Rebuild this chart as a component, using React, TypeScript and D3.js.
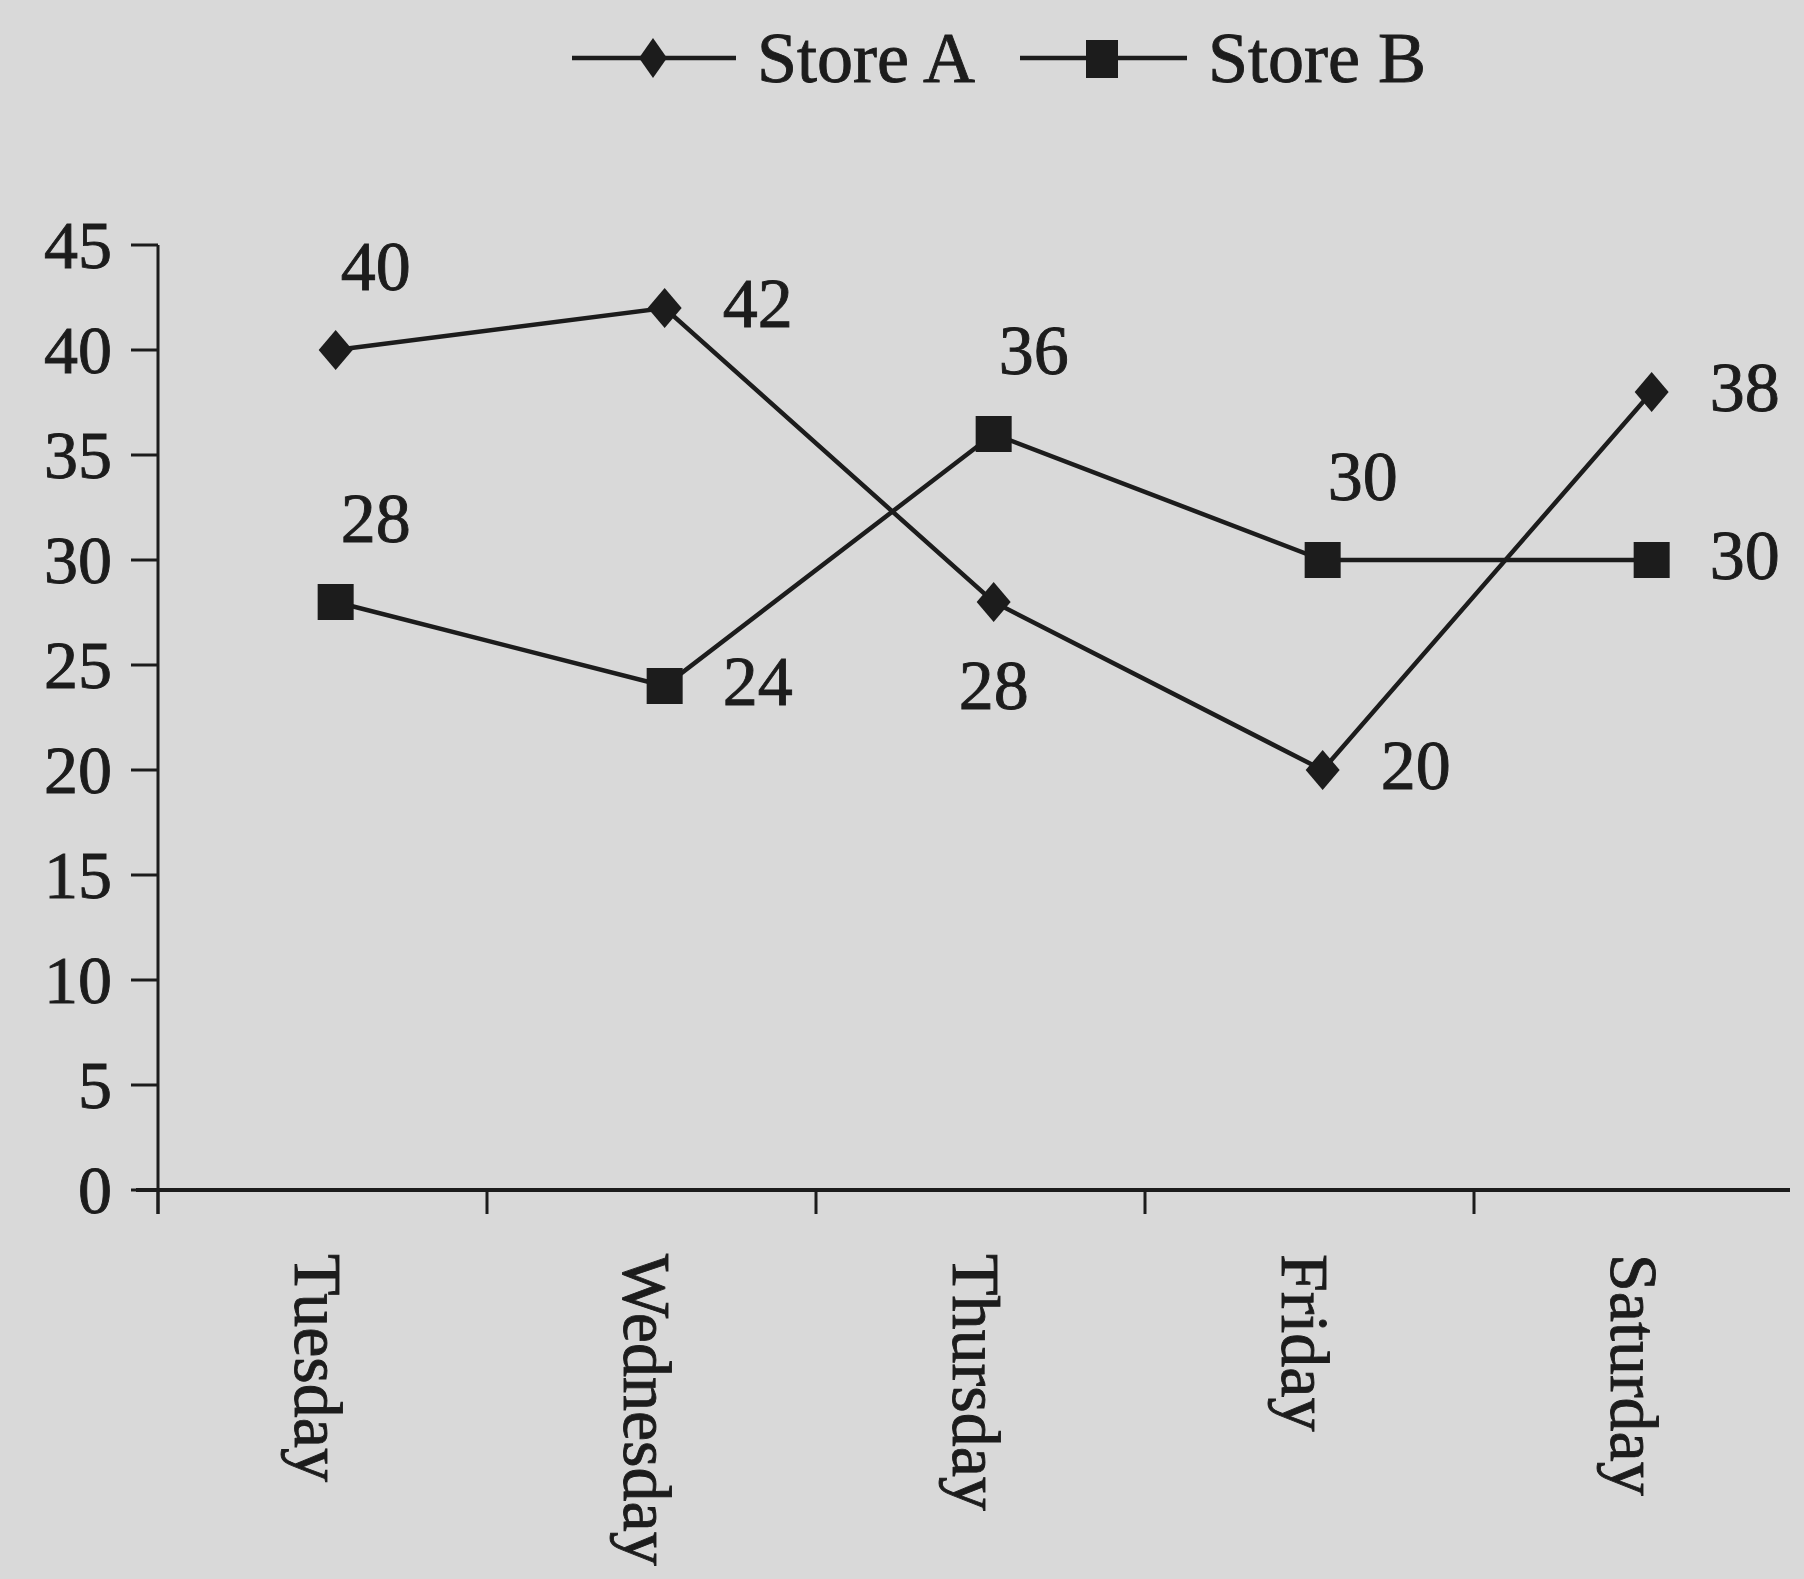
import * as d3 from "d3";

const days = ["Tuesday", "Wednesday", "Thursday", "Friday", "Saturday"];
const storeA = [40, 42, 28, 20, 38];
const storeB = [28, 24, 36, 30, 30];
const yTicks = [0, 5, 10, 15, 20, 25, 30, 35, 40, 45];
// where each value label sits relative to its marker
const labelPosA = ["above", "right", "below", "right", "right"];
const labelPosB = ["above", "right", "above", "above", "right"];

const W = 1804;
const H = 1579;
const ink = "#1c1c1c";
const font = "'Liberation Serif', 'Times New Roman', serif";

const x = d3.scaleBand<string>().domain(days).range([158, 1803]);
const y = d3.scaleLinear().domain([0, 45]).range([1190, 245]);
// markers sit a bit right of the band centre in the original
const cx = (d: string) => (x(d) ?? 0) + x.bandwidth() * 0.54;

const line = d3
  .line<number>()
  .x((_, i) => cx(days[i]))
  .y((v) => y(v));

const diamond = (px: number, py: number, w = 17, h = 20) =>
  `M${px},${py - h}L${px + w},${py}L${px},${py + h}L${px - w},${py}Z`;

function labelAttrs(pos: string, px: number, py: number) {
  if (pos === "above") return { x: px + 40, y: py - 84, anchor: "middle" };
  if (pos === "below") return { x: px, y: py + 83, anchor: "middle" };
  return { x: px + 58, y: py - 5, anchor: "start" };
}

const textStyle = { fill: ink, stroke: ink, strokeWidth: 0.9 };

function Labels({ values, pos }: { values: number[]; pos: string[] }) {
  return (
    <g>
      {values.map((v, i) => {
        const a = labelAttrs(pos[i], cx(days[i]), y(v));
        return (
          <text
            key={i}
            x={a.x}
            y={a.y}
            textAnchor={a.anchor}
            dominantBaseline="central"
            fontSize={70}
            {...textStyle}
          >
            {v}
          </text>
        );
      })}
    </g>
  );
}

export default function App() {
  const axisX = x.range()[0];
  const y0 = y(0);
  return (
    <svg
      width={W}
      height={H}
      style={{ position: "absolute", left: 0, top: 0, display: "block" }}
      fontFamily={font}
    >
      <rect width={W} height={H} fill="#d9d9d9" />

      {/* legend */}
      <g stroke={ink} strokeWidth={4.5}>
        <line x1={572} x2={736} y1={58} y2={58} />
        <line x1={1020} x2={1187} y1={58} y2={58} />
      </g>
      <path d={diamond(653, 58, 14, 20)} fill={ink} />
      <rect x={1086} y={40} width={32} height={38} fill={ink} />
      <text x={757} y={58} dominantBaseline="central" fontSize={72} {...textStyle}>
        Store A
      </text>
      <text x={1208} y={58} dominantBaseline="central" fontSize={72} {...textStyle}>
        Store B
      </text>

      {/* y axis */}
      <line x1={axisX} x2={axisX} y1={y(45)} y2={y0 + 24} stroke={ink} strokeWidth={3} />
      {yTicks.map((t) => (
        <g key={t}>
          <line x1={axisX - 27} x2={axisX} y1={y(t)} y2={y(t)} stroke={ink} strokeWidth={3} />
          <text
            x={axisX - 46}
            y={y(t)}
            textAnchor="end"
            dominantBaseline="central"
            fontSize={68}
            {...textStyle}
          >
            {t}
          </text>
        </g>
      ))}

      {/* x axis */}
      <line x1={136} x2={1790} y1={y0} y2={y0} stroke={ink} strokeWidth={4} />
      {days.map((d) => (
        <line
          key={d}
          x1={x(d) ?? 0}
          x2={x(d) ?? 0}
          y1={y0}
          y2={y0 + 24}
          stroke={ink}
          strokeWidth={3}
        />
      ))}
      {days.map((d) => (
        <text
          key={d}
          transform={`translate(${cx(d) - 18},1254) rotate(90)`}
          dominantBaseline="central"
          fontSize={68}
          {...textStyle}
        >
          {d}
        </text>
      ))}

      {/* series */}
      <path d={line(storeA) ?? ""} fill="none" stroke={ink} strokeWidth={4.5} />
      <path d={line(storeB) ?? ""} fill="none" stroke={ink} strokeWidth={4.5} />
      {storeA.map((v, i) => (
        <path key={i} d={diamond(cx(days[i]), y(v))} fill={ink} />
      ))}
      {storeB.map((v, i) => (
        <rect key={i} x={cx(days[i]) - 18} y={y(v) - 18} width={36} height={36} fill={ink} />
      ))}
      <Labels values={storeA} pos={labelPosA} />
      <Labels values={storeB} pos={labelPosB} />
    </svg>
  );
}
